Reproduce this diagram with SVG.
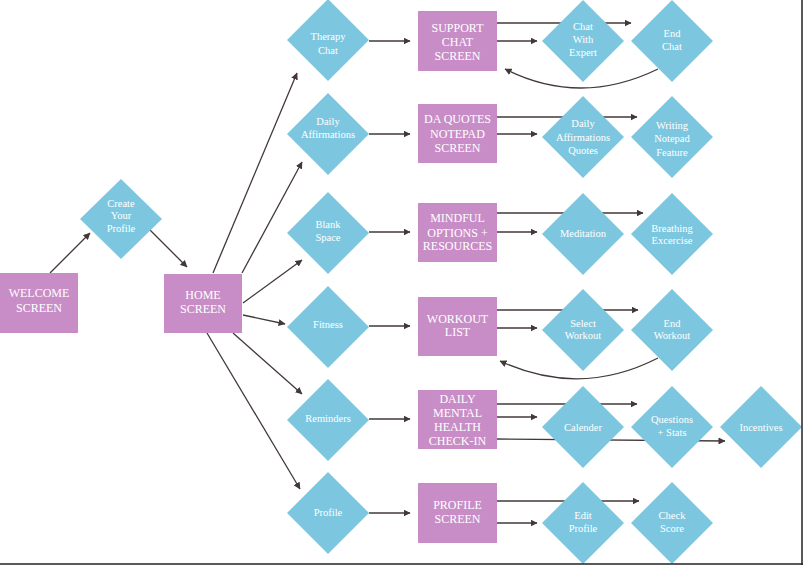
<svg xmlns="http://www.w3.org/2000/svg" width="803" height="565" viewBox="0 0 803 565">
<defs>
<marker id="ah" markerUnits="userSpaceOnUse" markerWidth="7" markerHeight="7" refX="6.5" refY="3.5" orient="auto">
<path d="M0,0 L7,3.5 L0,7 z" fill="#433838"/>
</marker>
</defs>
<style>
.rect{fill:#c88dc7}
.dia{fill:#7cc7df}
.t{font-family:"Liberation Serif","Times New Roman",serif;fill:#ffffff;text-anchor:middle}
.rt{font-size:12px}
.dt{font-size:10.5px}
.c{fill:none;stroke:#433838;stroke-width:1.3}
.a{marker-end:url(#ah)}
</style>
<rect x="0" y="0" width="803" height="565" fill="#ffffff"/>
<g id="connectors">
<path class="c a" d="M50,273 L90,233"/>
<path class="c a" d="M150,230 L187,267"/>
<path class="c a" d="M213,273 L297,73"/>
<path class="c a" d="M242,273 L302,162"/>
<path class="c a" d="M243,303 L302,260"/>
<path class="c a" d="M243,315 L285,324"/>
<path class="c a" d="M233,333 L302,394"/>
<path class="c a" d="M207,333 L300,489"/>
<path class="c a" d="M369,41 L410,41"/>
<path class="c a" d="M369,134 L410,134"/>
<path class="c a" d="M369,232 L410,232"/>
<path class="c a" d="M369,326 L410,326"/>
<path class="c a" d="M369,419 L410,419"/>
<path class="c a" d="M369,513 L410,513"/>
<path class="c a" d="M497,23 L631,23"/>
<path class="c a" d="M497,41 L537,41"/>
<path class="c a" d="M658,69 Q580,107 505,69"/>
<path class="c a" d="M497,117 L637,117"/>
<path class="c a" d="M497,134 L537,134"/>
<path class="c a" d="M497,213 L643,213"/>
<path class="c a" d="M497,232 L537,232"/>
<path class="c a" d="M497,310 L638,310"/>
<path class="c a" d="M497,328 L537,328"/>
<path class="c a" d="M658,358 Q580,398 500,361"/>
<path class="c a" d="M497,404 L637,404"/>
<path class="c a" d="M497,417 L537,417"/>
<path class="c a" d="M497,439 L725,441"/>
<path class="c a" d="M497,501 L639,501"/>
<path class="c a" d="M497,523 L537,523"/>
</g>
<g id="welcome"><rect class="rect" x="0" y="273" width="78" height="60"/>
<text class="t rt" x="39" y="297">WELCOME</text><text class="t rt" x="39" y="312">SCREEN</text></g>
<g id="create-profile"><polygon class="dia" points="121,179 162,219 121,259 80,219"/>
<text class="t dt" x="121" y="207">Create</text><text class="t dt" x="121" y="219">Your</text><text class="t dt" x="121" y="232">Profile</text></g>
<g id="home"><rect class="rect" x="164" y="274" width="78" height="59"/>
<text class="t rt" x="203" y="299">HOME</text><text class="t rt" x="203" y="313">SCREEN</text></g>

<g id="therapy-chat"><polygon class="dia" points="328,-1 369,40 328,81 287,40"/>
<text class="t dt" x="328" y="40">Therapy</text><text class="t dt" x="328" y="54">Chat</text></g>
<g id="daily-affirmations"><polygon class="dia" points="328,93 369,134 328,175 287,134"/>
<text class="t dt" x="328" y="125">Daily</text><text class="t dt" x="328" y="138">Affirmations</text></g>
<g id="blank-space"><polygon class="dia" points="328,192 369,233 328,274 287,233"/>
<text class="t dt" x="328" y="228">Blank</text><text class="t dt" x="328" y="241">Space</text></g>
<g id="fitness"><polygon class="dia" points="328,286 369,327 328,368 287,327"/>
<text class="t dt" x="328" y="328">Fitness</text></g>
<g id="reminders"><polygon class="dia" points="328,379 369,420 328,461 287,420"/>
<text class="t dt" x="328" y="422">Reminders</text></g>
<g id="profile"><polygon class="dia" points="328,472 369,513 328,554 287,513"/>
<text class="t dt" x="328" y="516">Profile</text></g>

<g id="support-chat-screen"><rect class="rect" x="418" y="11" width="79" height="60"/>
<text class="t rt" x="457.5" y="31.5">SUPPORT</text><text class="t rt" x="457.5" y="45.5">CHAT</text><text class="t rt" x="457.5" y="59.5">SCREEN</text></g>
<g id="da-quotes-screen"><rect class="rect" x="418" y="104" width="79" height="59"/>
<text class="t rt" x="457.5" y="123">DA QUOTES</text><text class="t rt" x="457.5" y="137.5">NOTEPAD</text><text class="t rt" x="457.5" y="151.5">SCREEN</text></g>
<g id="mindful-options"><rect class="rect" x="418" y="203" width="79" height="59"/>
<text class="t rt" x="457.5" y="222">MINDFUL</text><text class="t rt" x="457.5" y="236.5">OPTIONS +</text><text class="t rt" x="457.5" y="250">RESOURCES</text></g>
<g id="workout-list"><rect class="rect" x="418" y="297" width="79" height="59"/>
<text class="t rt" x="457.5" y="322.5">WORKOUT</text><text class="t rt" x="457.5" y="336">LIST</text></g>
<g id="daily-checkin"><rect class="rect" x="418" y="390" width="79" height="59"/>
<text class="t rt" x="457.5" y="403">DAILY</text><text class="t rt" x="457.5" y="417">MENTAL</text><text class="t rt" x="457.5" y="431">HEALTH</text><text class="t rt" x="457.5" y="445">CHECK-IN</text></g>
<g id="profile-screen"><rect class="rect" x="418" y="483" width="79" height="60"/>
<text class="t rt" x="457.5" y="509">PROFILE</text><text class="t rt" x="457.5" y="523">SCREEN</text></g>

<g id="chat-with-expert"><polygon class="dia" points="583,0 624,41 583,82 542,41"/>
<text class="t dt" x="583" y="30">Chat</text><text class="t dt" x="583" y="43">With</text><text class="t dt" x="583" y="56">Expert</text></g>
<g id="end-chat"><polygon class="dia" points="672,0 713,41 672,82 631,41"/>
<text class="t dt" x="672" y="37">End</text><text class="t dt" x="672" y="50">Chat</text></g>
<g id="daily-affirmations-quotes"><polygon class="dia" points="583,96 624,137 583,178 542,137"/>
<text class="t dt" x="583" y="127">Daily</text><text class="t dt" x="583" y="141">Affirmations</text><text class="t dt" x="583" y="154">Quotes</text></g>
<g id="writing-notepad"><polygon class="dia" points="672,96 713,137 672,178 631,137"/>
<text class="t dt" x="672" y="129">Writing</text><text class="t dt" x="672" y="142">Notepad</text><text class="t dt" x="672" y="156">Feature</text></g>
<g id="meditation"><polygon class="dia" points="583,193 624,234 583,275 542,234"/>
<text class="t dt" x="583" y="237">Meditation</text></g>
<g id="breathing"><polygon class="dia" points="672,193 713,234 672,275 631,234"/>
<text class="t dt" x="672" y="232">Breathing</text><text class="t dt" x="672" y="244">Excercise</text></g>
<g id="select-workout"><polygon class="dia" points="583,289 624,330 583,371 542,330"/>
<text class="t dt" x="583" y="327">Select</text><text class="t dt" x="583" y="339">Workout</text></g>
<g id="end-workout"><polygon class="dia" points="672,289 713,330 672,371 631,330"/>
<text class="t dt" x="672" y="327">End</text><text class="t dt" x="672" y="339">Workout</text></g>
<g id="calender"><polygon class="dia" points="583,386 624,427 583,468 542,427"/>
<text class="t dt" x="583" y="431">Calender</text></g>
<g id="questions-stats"><polygon class="dia" points="672,386 713,427 672,468 631,427"/>
<text class="t dt" x="672" y="423">Questions</text><text class="t dt" x="672" y="436">+ Stats</text></g>
<g id="incentives"><polygon class="dia" points="761,386 802,427 761,468 720,427"/>
<text class="t dt" x="761" y="431">Incentives</text></g>
<g id="edit-profile"><polygon class="dia" points="583,482 624,523 583,564 542,523"/>
<text class="t dt" x="583" y="519">Edit</text><text class="t dt" x="583" y="532">Profile</text></g>
<g id="check-score"><polygon class="dia" points="672,482 713,523 672,564 631,523"/>
<text class="t dt" x="672" y="519">Check</text><text class="t dt" x="672" y="532">Score</text></g>

<line x1="802" y1="0" x2="802" y2="565" stroke="#222222" stroke-width="1.5"/>
<line x1="0" y1="564" x2="803" y2="564" stroke="#222222" stroke-width="1.5"/>
</svg>
